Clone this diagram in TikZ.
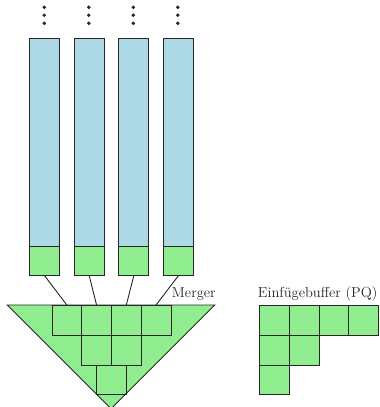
\documentclass[tikz,border=0pt]{standalone}
\usepackage{fontspec}
\definecolor{colblue}{RGB}{173,216,230}
\definecolor{cellgreen}{RGB}{144,238,144}
\begin{document}
\begin{tikzpicture}[x=1pt,y=-1pt,
  line width=0.9pt,
  cell/.style={draw=black!85, fill=cellgreen, minimum width=29.75pt, minimum height=29.75pt, inner sep=0pt, anchor=north west},
  column/.style={draw=black!85, fill=colblue, minimum width=30pt, minimum height=207.4pt, inner sep=0pt, anchor=north west},
  colcell/.style={draw=black!85, fill=cellgreen, minimum width=30pt, minimum height=29.3pt, inner sep=0pt, anchor=north west},
  dot/.style={circle, fill=black!85, inner sep=0pt, minimum size=3.8pt},
  label/.style={inner sep=0pt, anchor=base west, font=\fontsize{14.5}{17}\selectfont, text=black!85}]
  \useasboundingbox (0,0) rectangle (380,407);

  % merger triangle
  \coordinate (tl) at (7.3,305);
  \coordinate (tr) at (214.7,305);
  \coordinate (tip) at (111,408.7);
  \fill[cellgreen] (tl) -- (tr) -- (tip) -- cycle;

  % input runs: blue column with green head cell and dots above
  \foreach \i in {1,...,4} {
    \pgfmathsetmacro{\xl}{29.3+44.5*(\i-1)}
    \pgfmathsetmacro{\xc}{\xl+15}
    \node[column] (run\i) at (\xl,38.3) {};
    \node[colcell] (head\i) at (\xl,245.7) {};
    \node[dot] (da\i) at (\xc,7.3) {};
    \node[dot] (db\i) at (\xc,15.2) {};
    \node[dot] (dc\i) at (\xc,23.3) {};
  }

  % merger internal buffers
  \node[cell] (m1) at (51.5,305) {};
  \node[cell] (m2) at (81.25,305) {};
  \node[cell] (m3) at (111,305) {};
  \node[cell] (m4) at (140.75,305) {};
  \node[cell] (m5) at (81.25,334.75) {};
  \node[cell] (m6) at (111,334.75) {};
  \node[cell] (m7) at (96.1,364.5) {};

  \draw[black!85] (tl) -- (tr) -- (tip) -- cycle;

  % connections from run heads to merger
  \foreach \i in {1,...,4}
    \draw[black!85] (head\i.south) -- (m\i.north);

  \node[label] (mergerlabel) at (171.5,297) {Merger};

  % insertion buffer
  \node[label] (pqlabel) at (257.5,297) {Einfügebuffer (PQ)};
  \node[cell] (p1) at (259,305) {};
  \node[cell] (p2) at (288.75,305) {};
  \node[cell] (p3) at (318.5,305) {};
  \node[cell] (p4) at (348.25,305) {};
  \node[cell] (p5) at (259,334.75) {};
  \node[cell] (p6) at (288.75,334.75) {};
  \node[cell] (p7) at (259,364.5) {};
\end{tikzpicture}
\end{document}
